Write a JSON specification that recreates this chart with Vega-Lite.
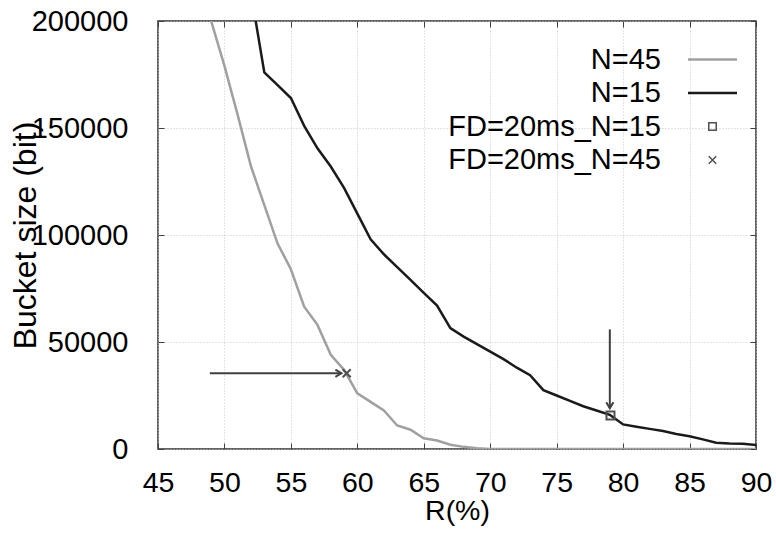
{
  "$schema": "https://vega.github.io/schema/vega-lite/v6.json",
  "width": 598,
  "height": 428,
  "autosize": {"type": "none"},
  "padding": {"left": 158, "top": 21, "right": 20, "bottom": 85},
  "background": "white",
  "config": {
    "font": "Liberation Sans",
    "view": {"stroke": "#303030", "strokeWidth": 1.5},
    "axis": {
      "labelFont": "Liberation Sans",
      "labelColor": "black",
      "titleColor": "black",
      "titleFont": "Liberation Sans",
      "titleFontWeight": "normal",
      "domain": false,
      "tickColor": "#404040",
      "tickWidth": 1,
      "gridColor": "#c8c8c8",
      "gridDash": [1, 2],
      "gridWidth": 1,
      "labelFlush": false,
      "labelOverlap": false
    }
  },
  "datasets": {
    "curves": [
      {"series": "N=45", "R": 49, "bits": 200000},
      {"series": "N=45", "R": 50, "bits": 179000},
      {"series": "N=45", "R": 51, "bits": 156000},
      {"series": "N=45", "R": 52, "bits": 132000},
      {"series": "N=45", "R": 53, "bits": 114000},
      {"series": "N=45", "R": 54, "bits": 96000},
      {"series": "N=45", "R": 55, "bits": 84000},
      {"series": "N=45", "R": 56, "bits": 66500},
      {"series": "N=45", "R": 57, "bits": 58000},
      {"series": "N=45", "R": 58, "bits": 44000},
      {"series": "N=45", "R": 59, "bits": 37000},
      {"series": "N=45", "R": 60, "bits": 26000},
      {"series": "N=45", "R": 61, "bits": 22000},
      {"series": "N=45", "R": 62, "bits": 18000},
      {"series": "N=45", "R": 63, "bits": 11000},
      {"series": "N=45", "R": 64, "bits": 9000},
      {"series": "N=45", "R": 65, "bits": 5000},
      {"series": "N=45", "R": 66, "bits": 4000},
      {"series": "N=45", "R": 67, "bits": 2000},
      {"series": "N=45", "R": 68, "bits": 1000},
      {"series": "N=45", "R": 69, "bits": 300},
      {"series": "N=45", "R": 70, "bits": 0},
      {"series": "N=45", "R": 75, "bits": 0},
      {"series": "N=45", "R": 80, "bits": 0},
      {"series": "N=45", "R": 85, "bits": 0},
      {"series": "N=45", "R": 90, "bits": 0},
      {"series": "N=15", "R": 52, "bits": 213000},
      {"series": "N=15", "R": 53, "bits": 176000},
      {"series": "N=15", "R": 54, "bits": 170000},
      {"series": "N=15", "R": 55, "bits": 164000},
      {"series": "N=15", "R": 56, "bits": 151000},
      {"series": "N=15", "R": 57, "bits": 140500},
      {"series": "N=15", "R": 58, "bits": 132000},
      {"series": "N=15", "R": 59, "bits": 122000},
      {"series": "N=15", "R": 60, "bits": 110000},
      {"series": "N=15", "R": 61, "bits": 98000},
      {"series": "N=15", "R": 62, "bits": 91000},
      {"series": "N=15", "R": 63, "bits": 85000},
      {"series": "N=15", "R": 64, "bits": 79000},
      {"series": "N=15", "R": 65, "bits": 73000},
      {"series": "N=15", "R": 66, "bits": 67000},
      {"series": "N=15", "R": 67, "bits": 56500},
      {"series": "N=15", "R": 68, "bits": 52500},
      {"series": "N=15", "R": 69, "bits": 49000},
      {"series": "N=15", "R": 70, "bits": 45500},
      {"series": "N=15", "R": 71, "bits": 42000},
      {"series": "N=15", "R": 72, "bits": 38000},
      {"series": "N=15", "R": 73, "bits": 34500},
      {"series": "N=15", "R": 74, "bits": 27500},
      {"series": "N=15", "R": 75, "bits": 25000},
      {"series": "N=15", "R": 76, "bits": 22500},
      {"series": "N=15", "R": 77, "bits": 20000},
      {"series": "N=15", "R": 78, "bits": 18000},
      {"series": "N=15", "R": 79, "bits": 16000},
      {"series": "N=15", "R": 80, "bits": 11500},
      {"series": "N=15", "R": 81, "bits": 10400},
      {"series": "N=15", "R": 82, "bits": 9400},
      {"series": "N=15", "R": 83, "bits": 8400},
      {"series": "N=15", "R": 84, "bits": 7000},
      {"series": "N=15", "R": 85, "bits": 6000},
      {"series": "N=15", "R": 86, "bits": 4500},
      {"series": "N=15", "R": 87, "bits": 2900},
      {"series": "N=15", "R": 88, "bits": 2600},
      {"series": "N=15", "R": 89, "bits": 2500},
      {"series": "N=15", "R": 90, "bits": 1900}
    ],
    "markers": [
      {"series": "FD=20ms_N=15", "R": 79.05, "bits": 15600},
      {"series": "FD=20ms_N=45", "R": 59.2, "bits": 35400}
    ],
    "arrows": [
      {"dir": "h", "R": 48.9, "bits": 35400, "R2": 58.8, "bits2": 35400},
      {"dir": "v", "R": 79.0, "bits": 55900, "R2": 79.0, "bits2": 19000}
    ]
  },
  "layer": [
    {
      "data": {"name": "curves"},
      "mark": {"type": "line", "clip": true, "strokeWidth": 2.5},
      "encoding": {
        "x": {
          "field": "R", "type": "quantitative",
          "scale": {"domain": [45, 90], "nice": false, "zero": false},
          "axis": {
            "orient": "bottom",
            "values": [45, 50, 55, 60, 65, 70, 75, 80, 85, 90],
            "labelFontSize": 28.5,
            "tickSize": -6,
            "labelPadding": 25,
            "grid": true,
            "title": "R(%)",
            "titleFontSize": 28.5,
            "titleBaseline": "alphabetic",
            "titleY": 70
          }
        },
        "y": {
          "field": "bits", "type": "quantitative",
          "scale": {"domain": [0, 200000], "nice": false},
          "axis": {
            "orient": "left",
            "values": [0, 50000, 100000, 150000, 200000],
            "format": "d",
            "labelFontSize": 29,
            "tickSize": -6,
            "labelPadding": 36,
            "grid": true,
            "title": "Bucket size (bit)",
            "titleFontSize": 32,
            "titleBaseline": "alphabetic",
            "titleX": -123
          }
        },
        "color": {
          "field": "series", "type": "nominal",
          "scale": {
            "domain": ["N=45", "N=15", "FD=20ms_N=15", "FD=20ms_N=45"],
            "range": ["#a0a0a0", "#1a1a1a", "#505050", "#505050"]
          },
          "legend": {
            "title": null,
            "orient": "none",
            "legendX": 540,
            "legendY": 24,
            "padding": 0,
            "labelFontSize": 29,
            "labelFont": "Liberation Sans",
            "labelColor": "black",
            "labelAlign": "right",
            "labelBaseline": "middle",
            "labelOffset": -66,
            "labelLimit": 0,
            "rowPadding": 3.5,
            "symbolSize": 2400,
            "symbolStrokeWidth": 2,
            "encode": {
              "symbols": {
                "update": {
                  "size": {"signal": "(datum.value == 'N=45' || datum.value == 'N=15') ? 2400 : 56"},
                  "strokeWidth": {"signal": "(datum.value == 'N=45' || datum.value == 'N=15') ? 2.5 : 1.5"}
                }
              }
            }
          }
        }
      }
    },
    {
      "data": {"name": "markers"},
      "mark": {"type": "point", "filled": false, "size": 64, "strokeWidth": 2, "opacity": 1},
      "encoding": {
        "x": {
          "field": "R", "type": "quantitative",
          "axis": {"orient": "top", "values": [45, 50, 55, 60, 65, 70, 75, 80, 85, 90], "labels": false, "tickSize": -6, "grid": false, "title": null}
        },
        "y": {
          "field": "bits", "type": "quantitative",
          "axis": {"orient": "right", "values": [0, 50000, 100000, 150000, 200000], "labels": false, "tickSize": -6, "grid": false, "title": null}
        },
        "color": {"field": "series", "type": "nominal", "legend": {"title": null}},
        "shape": {
          "field": "series", "type": "nominal",
          "scale": {
            "domain": ["N=45", "N=15", "FD=20ms_N=15", "FD=20ms_N=45"],
            "range": ["stroke", "stroke", "square", "M-1,-1L1,1M-1,1L1,-1"]
          },
          "legend": {"title": null}
        }
      }
    },
    {
      "data": {"name": "arrows"},
      "mark": {"type": "rule", "color": "#404040", "strokeWidth": 2},
      "encoding": {
        "x": {"field": "R", "type": "quantitative", "axis": null},
        "x2": {"field": "R2"},
        "y": {"field": "bits", "type": "quantitative", "axis": null},
        "y2": {"field": "bits2"}
      }
    },
    {
      "data": {"name": "arrows"},
      "transform": [{"filter": "datum.dir == 'h'"}],
      "mark": {"type": "point", "shape": "M-1,-0.6L0,0L-1,0.6", "filled": false, "size": 144, "strokeWidth": 2, "color": "#404040", "opacity": 1, "angle": 0},
      "encoding": {
        "x": {"field": "R2", "type": "quantitative", "axis": null},
        "y": {"field": "bits2", "type": "quantitative", "axis": null}
      }
    },
    {
      "data": {"name": "arrows"},
      "transform": [{"filter": "datum.dir == 'v'"}],
      "mark": {"type": "point", "shape": "M-1,-0.6L0,0L-1,0.6", "filled": false, "size": 144, "strokeWidth": 2, "color": "#404040", "opacity": 1, "angle": 90},
      "encoding": {
        "x": {"field": "R2", "type": "quantitative", "axis": null},
        "y": {"field": "bits2", "type": "quantitative", "axis": null}
      }
    }
  ],
  "resolve": {"axis": {"x": "independent", "y": "independent"}}
}
